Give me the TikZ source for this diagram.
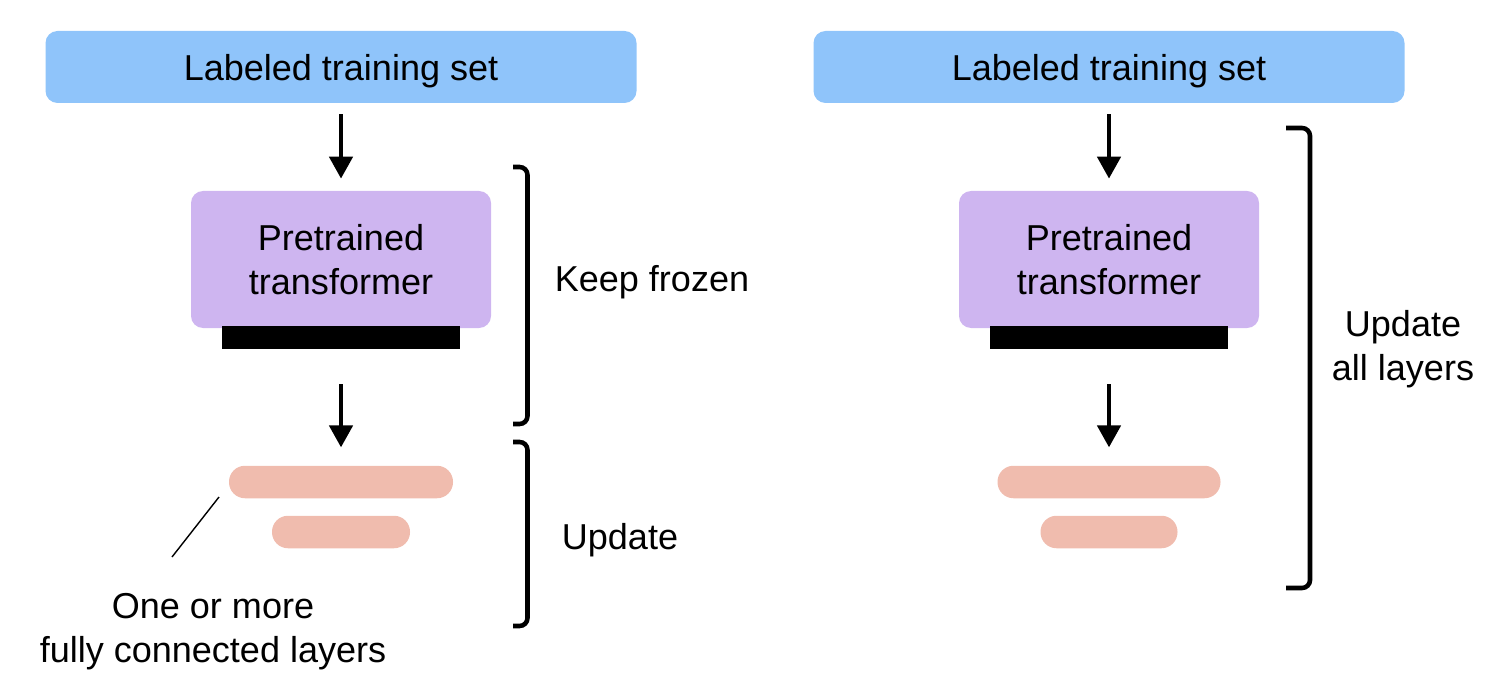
\documentclass[tikz,border=0pt]{standalone}
\usepackage{fontspec}
\setmainfont{Liberation Sans}
\usetikzlibrary{arrows.meta,positioning}

\definecolor{setblue}{RGB}{143,196,250}
\definecolor{modelpurple}{RGB}{206,181,240}
\definecolor{fcpink}{RGB}{240,188,174}

\begin{document}
\begin{tikzpicture}[
  font=\fontsize{20.5pt}{25pt}\selectfont,
  trainset/.style={fill=setblue,rounded corners=0.24cm,minimum width=11.82cm,minimum height=1.44cm,inner sep=0pt,text depth=0pt},
  model/.style={fill=modelpurple,rounded corners=0.24cm,minimum width=6cm,minimum height=2.74cm,inner sep=0pt,align=center},
  headbar/.style={fill=black,minimum width=4.76cm,minimum height=0.46cm,inner sep=0pt},
  fclayer/.style={fill=fcpink,rounded corners=0.32cm,minimum height=0.65cm,inner sep=0pt},
  flow/.style={line width=2.6pt,-{Triangle[length=0.44cm,width=0.46cm]}},
  bracket/.style={line width=2.6pt,rounded corners=0.16cm},
  pointer/.style={line width=0.8pt},
  lbl/.style={align=center,inner sep=0pt}
]
\useasboundingbox (0,0) rectangle (29.86,-13.46);

% -------------------------
% Geometry
% -------------------------
\def\xLeft{6.82}
\def\xRight{22.18}

\def\ySet{-1.34}
\def\yModel{-5.19}
\def\yBar{-6.75}
\def\yFcOne{-9.64}
\def\yFcTwo{-10.64}

% -------------------------
% Left: only the head is trained
% -------------------------
\node[trainset] (setL)   at (\xLeft,\ySet)   {Labeled training set};
\node[model]    (modelL) at (\xLeft,\yModel) {Pretrained\\transformer};
\node[headbar]  (barL)   at (\xLeft,\yBar)   {};
\node[fclayer,minimum width=4.48cm] (fcL1) at (\xLeft,\yFcOne) {};
\node[fclayer,minimum width=2.76cm] (fcL2) at (\xLeft,\yFcTwo) {};

\draw[flow,shorten <=0.22cm,shorten >=0.24cm] (setL) -- (modelL);
\draw[flow,shorten <=0.7cm,shorten >=0.36cm] (barL) -- (fcL1);

% note on the new layers
\coordinate (noteA) at (4.38,-9.94);
\coordinate (noteB) at (3.44,-11.14);
\draw[pointer] (noteA) -- (noteB);
\node[lbl] (noteL) at (4.26,-12.64) {One or more\\fully connected layers};

% brackets
\draw[bracket] (10.26,-3.34) -- (10.55,-3.34) -- (10.55,-8.48) -- (10.26,-8.48);
\draw[bracket] (10.26,-8.84) -- (10.55,-8.84) -- (10.55,-12.52) -- (10.26,-12.52);
\node[lbl] (frozenL) at (13.04,-5.65) {Keep frozen};
\node[lbl] (updateL) at (12.4,-10.8) {Update};

% -------------------------
% Right: all layers are trained
% -------------------------
\node[trainset] (setR)   at (\xRight,\ySet)   {Labeled training set};
\node[model]    (modelR) at (\xRight,\yModel) {Pretrained\\transformer};
\node[headbar]  (barR)   at (\xRight,\yBar)   {};
\node[fclayer,minimum width=4.46cm] (fcR1) at (\xRight,\yFcOne) {};
\node[fclayer,minimum width=2.74cm] (fcR2) at (\xRight,\yFcTwo) {};

\draw[flow,shorten <=0.22cm,shorten >=0.24cm] (setR) -- (modelR);
\draw[flow,shorten <=0.7cm,shorten >=0.36cm] (barR) -- (fcR1);

\draw[bracket] (25.72,-2.56) -- (26.2,-2.56) -- (26.2,-11.76) -- (25.72,-11.76);
\node[lbl] (updateR) at (28.06,-6.98) {Update\\all layers};

\end{tikzpicture}
\end{document}
